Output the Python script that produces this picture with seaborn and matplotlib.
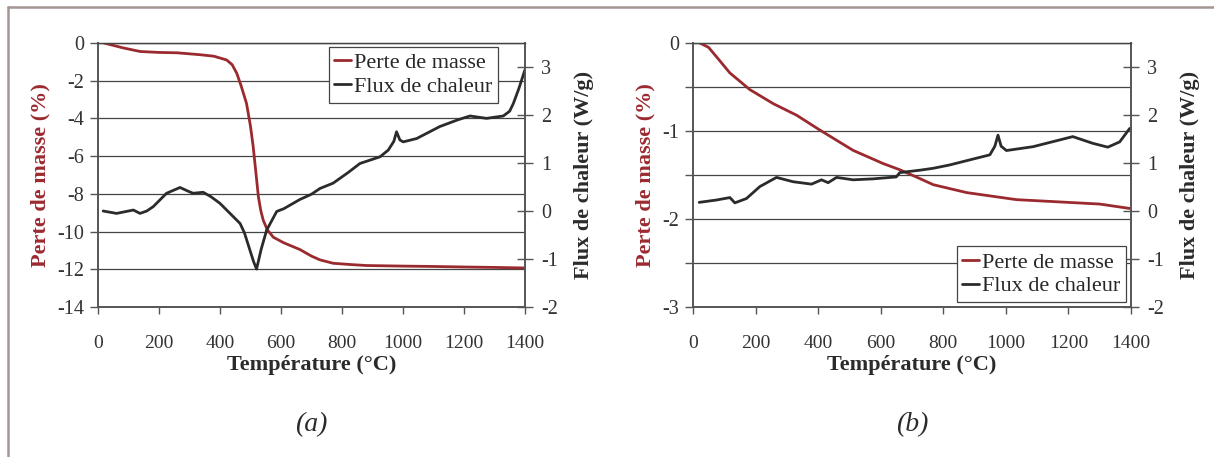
import matplotlib
matplotlib.use("Agg")
import matplotlib.pyplot as plt
import matplotlib.ticker as mticker
from matplotlib.lines import Line2D
import pandas as pd
import seaborn as sns

# (a) mass loss
temp_mass_a = [20, 80, 138, 200, 260, 334, 380, 422, 440, 455, 470, 487, 500, 509, 518,
               526, 534, 542, 555, 575, 610, 662, 700, 728, 771, 830, 881, 1000, 1100, 1209, 1300, 1400]
mass_a = [0, -0.25, -0.45, -0.5, -0.52, -0.62, -0.7, -0.9, -1.15, -1.6, -2.3, -3.2, -4.4, -5.5, -6.9,
          -8.15, -8.9, -9.4, -9.9, -10.3, -10.6, -10.95, -11.3, -11.5, -11.68, -11.75, -11.8, -11.83,
          -11.85, -11.88, -11.9, -11.93]
# (a) heat flux
temp_heat_a = [17, 61, 100, 116, 138, 160, 181, 225, 269, 300, 312, 345, 370, 400, 444, 466, 480,
               498, 510, 520, 535, 553, 586, 610, 640, 662, 700, 728, 771, 820, 859, 925, 952, 970,
               979, 990, 1001, 1045, 1121, 1180, 1220, 1274, 1329, 1350, 1362, 1380, 1400]
heat_a = [0.0, -0.05, 0.0, 0.02, -0.05, 0.0, 0.09, 0.37, 0.49, 0.4, 0.37, 0.39, 0.3, 0.16, -0.12,
          -0.26, -0.45, -0.81, -1.05, -1.21, -0.8, -0.4, -0.01, 0.05, 0.16, 0.24, 0.35, 0.47, 0.58,
          0.8, 0.99, 1.13, 1.27, 1.45, 1.65, 1.48, 1.44, 1.51, 1.76, 1.9, 1.98, 1.93, 1.98, 2.08,
          2.24, 2.55, 2.94]
# (b) mass loss
temp_mass_b = [22, 50, 76, 118, 182, 257, 331, 406, 512, 608, 661, 725, 768, 875, 1034, 1194, 1300, 1396]
mass_b = [0, -0.05, -0.16, -0.34, -0.53, -0.69, -0.82, -0.99, -1.22, -1.37, -1.44, -1.54, -1.61,
          -1.70, -1.78, -1.81, -1.83, -1.88]
# (b) heat flux
temp_heat_b = [20, 76, 118, 134, 171, 214, 267, 320, 379, 411, 432, 459, 512, 576, 650, 661, 725,
               768, 821, 906, 949, 965, 975, 985, 1002, 1087, 1214, 1278, 1326, 1364, 1396]
heat_b = [0.18, 0.23, 0.28, 0.17, 0.26, 0.51, 0.70, 0.61, 0.56, 0.65, 0.59, 0.70, 0.65, 0.67, 0.71,
          0.80, 0.85, 0.89, 0.96, 1.10, 1.17, 1.35, 1.58, 1.35, 1.26, 1.34, 1.55, 1.41, 1.33, 1.44, 1.72]

x_ticks = [0, 200, 400, 600, 800, 1000, 1200, 1400]
panel_labels = ["(a)", "(b)"]

sns.set_style("white")
plt.rcParams['font.family'] = ['Liberation Serif', 'DejaVu Serif']
plt.rcParams['axes.unicode_minus'] = False

RED = "#9B2A2F"
BLACK = "#2B2B2B"
GRID = "#444444"
TXT = "#333333"

fig = plt.figure(figsize=(12.14, 4.57), dpi=100)

panels = [
    dict(rect=[0.0807, 0.3282, 0.3517, 0.5777], tm=temp_mass_a, m=mass_a, th=temp_heat_a, h=heat_a,
         ylim=(-14, 0), ystep=2, label_every=2, leg_loc='upper right', leg_anchor=(0.937, 0.985)),
    dict(rect=[0.5708, 0.3282, 0.3608, 0.5777], tm=temp_mass_b, m=mass_b, th=temp_heat_b, h=heat_b,
         ylim=(-3, 0), ystep=0.5, label_every=1, leg_loc='lower right', leg_anchor=(0.989, 0.019)),
]

for p, plabel in zip(panels, panel_labels):
    ax = fig.add_axes(p['rect'])
    ax2 = ax.twinx()
    df_m = pd.DataFrame({'T': p['tm'], 'v': p['m']})
    df_h = pd.DataFrame({'T': p['th'], 'v': p['h']})
    sns.lineplot(data=df_m, x='T', y='v', ax=ax, color=RED, lw=2.0, label='Perte de masse', legend=False)
    sns.lineplot(data=df_h, x='T', y='v', ax=ax2, color=BLACK, lw=2.0, label='Flux de chaleur', legend=False)

    ax.set_xlim(0, 1400)
    ax.set_xticks(x_ticks)
    ax.set_ylim(*p['ylim'])
    ax.yaxis.set_major_locator(mticker.MultipleLocator(p['ystep']))
    le = p['label_every']
    ax.yaxis.set_major_formatter(mticker.FuncFormatter(
        lambda v, pos, le=le: ("%d" % round(v)) if abs(v / le - round(v / le)) < 1e-6 else ""))
    ax.grid(axis='y', color=GRID, lw=0.9)
    ax.grid(axis='x', visible=False)
    ax2.set_ylim(-2, 3.5)
    ax2.set_yticks([-2, -1, 0, 1, 2, 3])
    ax2.grid(False)

    for a in (ax, ax2):
        for s in a.spines.values():
            s.set_color("#555555")
            s.set_linewidth(1.2)
        a.spines['top'].set_color(GRID)
        a.spines['top'].set_linewidth(0.9)

    ax.tick_params(axis='y', direction='out', length=6, width=1, color="#555555",
                   labelsize=14.5, labelcolor=TXT, pad=4, left=True)
    ax.tick_params(axis='x', direction='out', length=5, width=1, color="#555555",
                   labelsize=14, labelcolor=TXT, pad=15, bottom=True)
    ax2.tick_params(axis='y', direction='inout', length=11, width=1, color="#555555",
                    labelsize=14.5, labelcolor=TXT, pad=6, right=True)

    ax.set_xlabel("Température (°C)", fontsize=16, fontweight='bold', color=BLACK, labelpad=2)
    ax.set_ylabel("Perte de masse (%)", fontsize=16, fontweight='bold', color=RED, labelpad=5)
    ax2.set_ylabel("Flux de chaleur (W/g)", fontsize=16, fontweight='bold', color=BLACK, labelpad=12)

    handles = ax.get_lines()[:1] + ax2.get_lines()[:1]
    leg = ax2.legend(handles, ['Perte de masse', 'Flux de chaleur'], loc=p['leg_loc'],
                     bbox_to_anchor=p['leg_anchor'], borderaxespad=0, fancybox=False,
                     framealpha=1, edgecolor="#444444", fontsize=16, handlelength=0.75,
                     handletextpad=0.15, borderpad=0.25, labelspacing=0.15)
    leg.get_frame().set_linewidth(0.9)

    cx = p['rect'][0] + p['rect'][2] / 2
    fig.text(cx, 1 - 425 / 457, plabel, ha='center', va='center', fontsize=20, style='italic', color=BLACK)

# figure frame (top and left edges)
fig.add_artist(Line2D([8 / 1214, 1.0], [1 - 6.5 / 457, 1 - 6.5 / 457], color="#A39693", lw=1.8,
                      transform=fig.transFigure))
fig.add_artist(Line2D([8 / 1214, 8 / 1214], [0.0, 1 - 6.5 / 457], color="#A39693", lw=1.8,
                      transform=fig.transFigure))

fig.savefig("out.png", dpi=100)
